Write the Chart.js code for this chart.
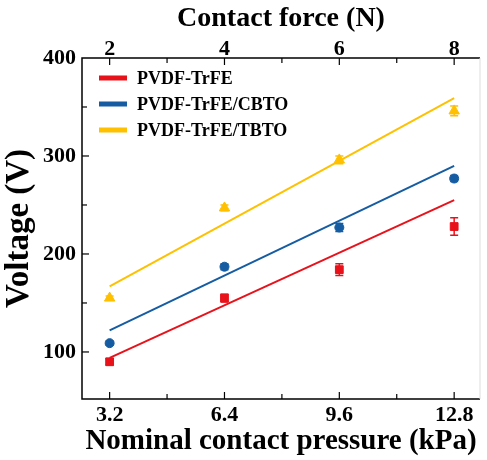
<!DOCTYPE html>
<html>
<head>
<meta charset="utf-8">
<script src="https://cdn.jsdelivr.net/npm/chart.js@4.4.1/dist/chart.umd.min.js"></script>
<style>
  html, body { margin: 0; padding: 0; background: #fff; }
  #wrap { width: 487px; height: 460px; }
</style>
</head>
<body>
<div id="wrap"><canvas id="voltChart" width="487" height="460"></canvas></div>
<script>
const pressure = [3.2, 6.4, 9.6, 12.8];          // kPa
const seriesNames = ['PVDF-TrFE', 'PVDF-TrFE/CBTO', 'PVDF-TrFE/TBTO'];
const voltPVDF = [90, 155, 184, 228];
const voltCBTO = [109, 187, 227, 277];
const voltTBTO = [155, 247, 296, 346];
const errPVDF = [3, 4, 6, 9];
const errCBTO = [2, 3, 4, 3];
const errTBTO = [2, 3, 4, 5];
// linear fit end points (at 3.2 and 12.8 kPa)
const fitPVDF = [94, 255];
const fitCBTO = [122, 290];
const fitTBTO = [167, 359];
const pressureTicks = [3.2, 6.4, 9.6, 12.8];
const forceTicks = [2, 4, 6, 8];
const voltTicks = [100, 200, 300, 400];

const colors = ['#e8121b', '#155ca2', '#ffc000'];
const serif = "'Liberation Serif', 'Times New Roman', serif";

const points = (ys) => pressure.map((x, i) => ({ x: x, y: ys[i] }));
const fitLine = (f) => [{ x: pressure[0], y: f[0] }, { x: pressure[3], y: f[1] }];

const pMin = 2.43, pMax = 13.52;

// draws error bars for the scatter sets
const errorBars = {
    id: 'errorBars',
    afterDatasetsDraw(chart) {
        const ctx = chart.ctx;
        const xs = chart.scales.x, ys = chart.scales.y;
        chart.data.datasets.forEach(ds => {
            if (!ds.err) return;
            ctx.save();
            ctx.strokeStyle = ds.borderColor;
            ctx.lineWidth = 1.5;
            ds.data.forEach((p, i) => {
                const px = xs.getPixelForValue(p.x);
                const top = ys.getPixelForValue(p.y + ds.err[i]);
                const bot = ys.getPixelForValue(p.y - ds.err[i]);
                ctx.beginPath();
                ctx.moveTo(px, top); ctx.lineTo(px, bot);
                ctx.moveTo(px - 4, top); ctx.lineTo(px + 4, top);
                ctx.moveTo(px - 4, bot); ctx.lineTo(px + 4, bot);
                ctx.stroke();
            });
            ctx.restore();
        });
    }
};

// frame, inward ticks and legend
const frame = {
    id: 'frame',
    afterDraw(chart) {
        const ctx = chart.ctx;
        const a = chart.chartArea;
        const xs = chart.scales.x, x2 = chart.scales.x2, ys = chart.scales.y;
        ctx.save();
        ctx.strokeStyle = '#000';
        ctx.lineWidth = 1.5;
        ctx.beginPath();
        ctx.moveTo(a.right, a.top); ctx.lineTo(a.left, a.top);
        ctx.lineTo(a.left, a.bottom); ctx.lineTo(a.right, a.bottom);
        ctx.stroke();
        ctx.strokeStyle = '#ddd';
        ctx.lineWidth = 1;
        ctx.beginPath();
        ctx.moveTo(a.right, a.top); ctx.lineTo(a.right, a.bottom);
        ctx.stroke();

        ctx.strokeStyle = '#000';
        ctx.lineWidth = 1.2;
        const tick = (x1, y1, x2_, y2_) => { ctx.beginPath(); ctx.moveTo(x1, y1); ctx.lineTo(x2_, y2_); ctx.stroke(); };
        [3.2, 4.8, 6.4, 8.0, 9.6, 11.2, 12.8].forEach((v, i) => {
            const px = xs.getPixelForValue(v);
            tick(px, a.bottom, px, a.bottom - (i % 2 ? 5 : 7));
        });
        [2, 3, 4, 5, 6, 7, 8].forEach((v, i) => {
            const px = x2.getPixelForValue(v);
            tick(px, a.top, px, a.top + (i % 2 ? 5 : 7));
        });
        [100, 150, 200, 250, 300, 350].forEach((v, i) => {
            const py = ys.getPixelForValue(v);
            tick(a.left, py, a.left + (i % 2 ? 5 : 7), py);
        });

        // legend
        ctx.font = 'bold 18px ' + serif;
        ctx.textBaseline = 'middle';
        ctx.fillStyle = '#000';
        seriesNames.forEach((name, i) => {
            const y = 78 + i * 26;
            ctx.fillStyle = colors[i];
            ctx.fillRect(99, y - 2.5, 28, 5);
            ctx.fillStyle = '#000';
            ctx.fillText(name, 137, y + 1);
        });
        ctx.restore();
    }
};

const setTicks = (vals) => (scale) => { scale.ticks = vals.map(v => ({ value: v })); };

new Chart(document.getElementById('voltChart').getContext('2d'), {
    type: 'scatter',
    data: {
        datasets: [
            { label: seriesNames[0] + ' fit', type: 'line', data: fitLine(fitPVDF), borderColor: colors[0], borderWidth: 2, pointRadius: 0, xAxisID: 'x' },
            { label: seriesNames[1] + ' fit', type: 'line', data: fitLine(fitCBTO), borderColor: colors[1], borderWidth: 2, pointRadius: 0, xAxisID: 'x' },
            { label: seriesNames[2] + ' fit', type: 'line', data: fitLine(fitTBTO), borderColor: colors[2], borderWidth: 2, pointRadius: 0, xAxisID: 'x' },
            { label: seriesNames[0], data: points(voltPVDF), err: errPVDF, pointStyle: 'rect', pointRadius: 5.5, backgroundColor: colors[0], borderColor: colors[0], xAxisID: 'x' },
            { label: seriesNames[1], data: points(voltCBTO), err: errCBTO, pointStyle: 'circle', pointRadius: 4.5, backgroundColor: colors[1], borderColor: colors[1], xAxisID: 'x' },
            { label: seriesNames[2], data: points(voltTBTO), err: errTBTO, pointStyle: 'triangle', pointRadius: 6, backgroundColor: colors[2], borderColor: colors[2], xAxisID: 'x' }
        ]
    },
    options: {
        responsive: false,
        animation: false,
        layout: { padding: { left: 0, right: 2, top: 0, bottom: 0 } },
        plugins: { legend: { display: false }, tooltip: { enabled: false } },
        scales: {
            x: {
                type: 'linear', position: 'bottom', min: pMin, max: pMax,
                grid: { display: false, drawTicks: false },
                border: { display: false },
                afterBuildTicks: setTicks(pressureTicks),
                afterFit: (s) => { s.height = 61; },
                ticks: { color: '#000', padding: 3, font: { family: serif, size: 22, weight: 'bold' }, callback: (v) => v.toFixed(1) },
                title: { display: true, text: 'Nominal contact pressure (kPa)', color: '#000', padding: { top: 0, bottom: 1 }, font: { family: serif, size: 29, weight: 'bold' } }
            },
            x2: {
                type: 'linear', position: 'top', min: pMin / 1.6, max: pMax / 1.6,
                grid: { display: false, drawTicks: false },
                border: { display: false },
                afterBuildTicks: setTicks(forceTicks),
                afterFit: (s) => { s.height = 58; },
                ticks: { color: '#000', padding: -5, font: { family: serif, size: 22, weight: 'bold' } },
                title: { display: true, text: 'Contact force (N)', color: '#000', padding: { top: 2, bottom: 0 }, font: { family: serif, size: 28, weight: 'bold' } }
            },
            y: {
                type: 'linear', position: 'left', min: 52, max: 400,
                grid: { display: false, drawTicks: false },
                border: { display: false },
                afterBuildTicks: setTicks(voltTicks),
                afterFit: (s) => { s.width = 82; },
                ticks: { color: '#000', padding: 6, font: { family: serif, size: 22, weight: 'bold' } },
                title: { display: true, text: 'Voltage (V)', color: '#000', padding: { top: 0, bottom: 0 }, font: { family: serif, size: 33, weight: 'bold' } }
            }
        }
    },
    plugins: [errorBars, frame]
});
</script>
</body>
</html>
